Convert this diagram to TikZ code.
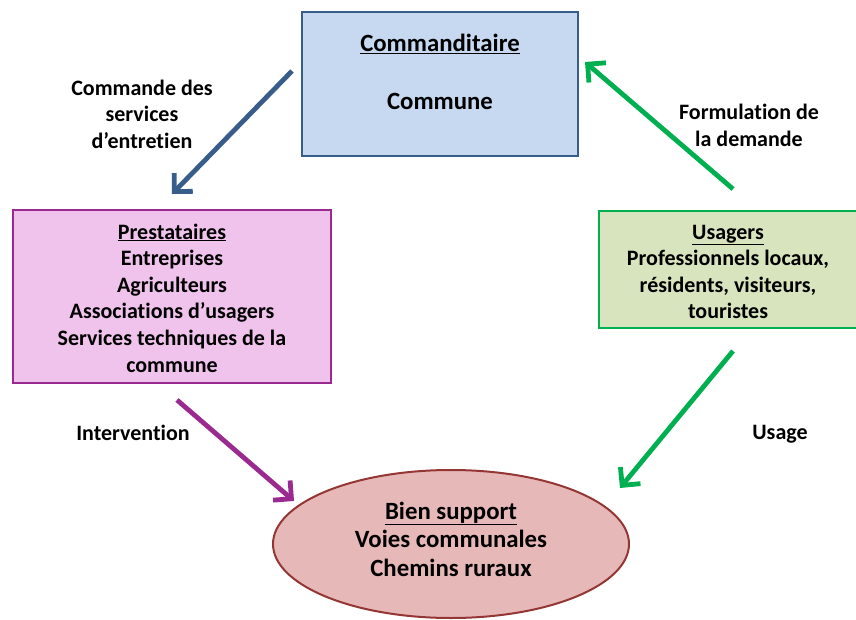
\documentclass[tikz,border=0pt]{standalone}
\usepackage{fontspec}
\setmainfont{Carlito}[BoldFont=Carlito Bold,Ligatures=NoCommon]
\usetikzlibrary{arrows.meta,shapes.geometric}
\definecolor{cmdfill}{HTML}{C6D9F1}
\definecolor{cmdline}{HTML}{385D8A}
\definecolor{prefill}{HTML}{F0C3EC}
\definecolor{preline}{HTML}{9A2A8F}
\definecolor{usafill}{HTML}{D7E4BD}
\definecolor{usaline}{HTML}{00B050}
\definecolor{bienfill}{HTML}{E6B9B8}
\definecolor{bienline}{HTML}{943634}
\tikzset{
  boxtext/.style={align=center,inner sep=0pt,font=\bfseries\fontsize{22}{26.6}\selectfont},
  bigtext/.style={align=center,inner sep=0pt,font=\bfseries\fontsize{24.8}{28.5}\selectfont},
  lbl/.style={align=center,inner sep=0pt,font=\bfseries\fontsize{22}{26.6}\selectfont},
  flow/.style={line width=4.8pt,-{Straight Barb[length=13pt,width=26pt,line width=4.8pt]}},
}
\begin{document}
\begin{tikzpicture}[x=1pt,y=-1pt]
\path[use as bounding box] (0,0) rectangle (856,620);
% boxes
\node[draw=cmdline,fill=cmdfill,line width=2.5pt,minimum width=276pt,minimum height=144pt,inner sep=0pt] (cmd) at (440,84) {};
\node[bigtext] (cmdt) at (440,72) {\underline{Commanditaire}\\[30pt]Commune};
\node[draw=preline,fill=prefill,line width=2pt,minimum width=318pt,minimum height=173pt,inner sep=0pt] (pre) at (172,296.5) {};
\node[boxtext] (pret) at (172,298) {\underline{Prestataires}\\Entreprises\\Agriculteurs\\Associations d’usagers\\Services techniques de la\\commune};
\node[draw=usaline,fill=usafill,line width=2.5pt,minimum width=262pt,minimum height=117pt,inner sep=0pt] (usa) at (730,269.5) {};
\node[boxtext] (usat) at (728,272) {\underline{Usagers}\\Professionnels locaux,\\résidents, visiteurs,\\touristes};
\node[ellipse,draw=bienline,fill=bienfill,line width=2pt,minimum width=356pt,minimum height=148pt,inner sep=0pt] (bien) at (451,544) {};
\node[bigtext] (bient) at (451,539) {\underline{Bien support}\\Voies communales\\Chemins ruraux};
% connector ends
\coordinate (a1s) at (292,71);  \coordinate (a1e) at (172,194);
\coordinate (a2s) at (733,189); \coordinate (a2e) at (585,62);
\coordinate (a3s) at (177,400); \coordinate (a3e) at (294,501);
\coordinate (a4s) at (733,351); \coordinate (a4e) at (620,488);
\draw[flow,draw=cmdline] (a1s) -- (a1e);
\draw[flow,draw=usaline] (a2s) -- (a2e);
\draw[flow,draw=preline] (a3s) -- (a3e);
\draw[flow,draw=usaline] (a4s) -- (a4e);
% labels
\node[lbl] (l1) at (142,114) {Commande des\\services\\d’entretien};
\node[lbl] (l2) at (749,125.5) {Formulation de\\la demande};
\node[lbl] (l3) at (133,433) {Intervention};
\node[lbl] (l4) at (780,434) {Usage};
\end{tikzpicture}
\end{document}
